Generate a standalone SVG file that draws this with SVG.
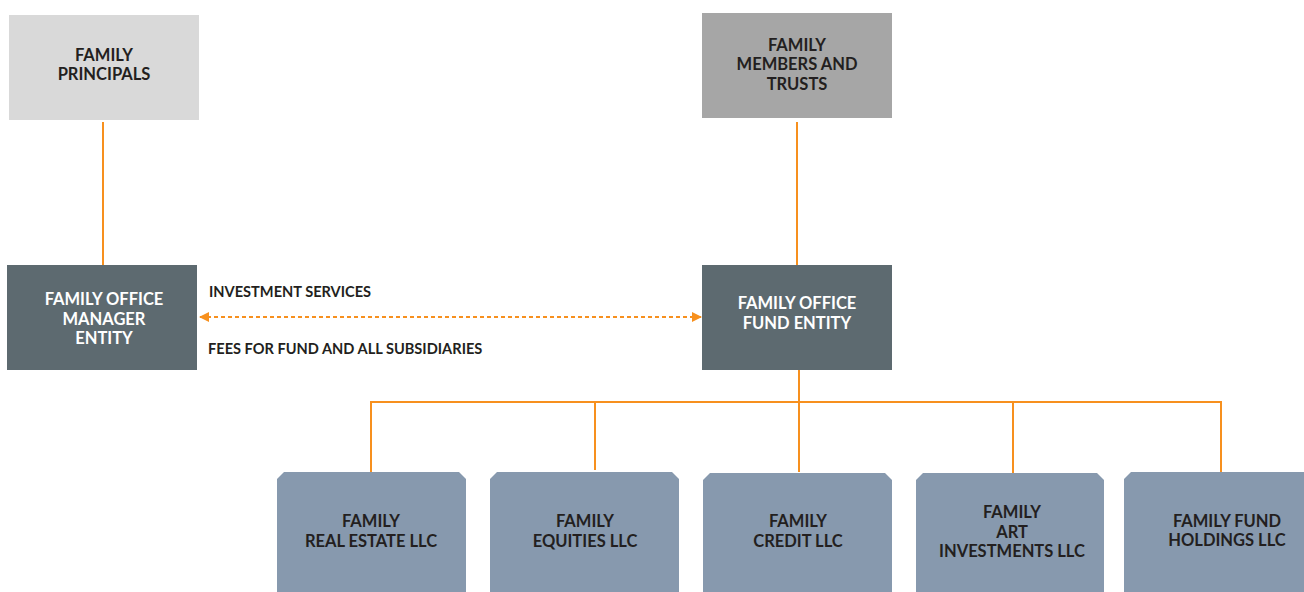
<svg xmlns="http://www.w3.org/2000/svg" width="1304" height="592" viewBox="0 0 1304 592">
<style>
.t{font-family:Lato,"Liberation Sans",sans-serif;font-weight:700;font-size:16.5px;text-anchor:middle;fill:#231f20}
.w{fill:#ffffff}
.lbl{font-family:Lato,"Liberation Sans",sans-serif;font-weight:700;font-size:14.6px;fill:#231f20}
.ln{stroke:#f7901e;stroke-width:2;fill:none}
.dash{stroke:#f7901e;stroke-width:2;fill:none;stroke-dasharray:4 3}
.dark{fill:#5d6a70}
.sub{fill:#8799ae}
</style>
<defs>
<marker id="ah" viewBox="0 0 10 10" refX="9" refY="5" markerWidth="5" markerHeight="5" orient="auto-start-reverse">
<path d="M0,0 L10,5 L0,10 Z" fill="#f7901e"/>
</marker>
</defs>
<rect width="1304" height="592" fill="#ffffff"/>
<g id="connectors">
<line class="ln" x1="103" y1="122" x2="103" y2="265"/>
<line class="ln" x1="797" y1="122" x2="797" y2="265"/>
<line class="dash" x1="200" y1="317" x2="701" y2="317" marker-start="url(#ah)" marker-end="url(#ah)"/>
<line class="ln" x1="799" y1="370" x2="799" y2="472"/>
<polyline class="ln" points="371,472 371,402 1221,402 1221,472"/>
<line class="ln" x1="595" y1="402" x2="595" y2="470"/>
<line class="ln" x1="1013" y1="402" x2="1013" y2="473"/>
</g>
<g id="family-principals">
<rect x="9" y="15" width="190" height="105" fill="#d9d9d9"/>
<text class="t" x="104" y="61">FAMILY</text>
<text class="t" x="104" y="80">PRINCIPALS</text>
</g>
<g id="family-members">
<rect x="702" y="13" width="190" height="105" fill="#a6a6a6"/>
<text class="t" x="797" y="51">FAMILY</text>
<text class="t" x="797" y="70">MEMBERS AND</text>
<text class="t" x="797" y="90">TRUSTS</text>
</g>
<g id="manager-entity">
<rect class="dark" x="7" y="265" width="190" height="105"/>
<text class="t w" x="104" y="305">FAMILY OFFICE</text>
<text class="t w" x="104" y="325">MANAGER</text>
<text class="t w" x="104" y="344">ENTITY</text>
</g>
<g id="fund-entity">
<rect class="dark" x="702" y="265" width="190" height="105"/>
<text class="t w" x="797" y="309">FAMILY OFFICE</text>
<text class="t w" x="797" y="329">FUND ENTITY</text>
</g>
<g id="labels">
<text class="lbl" x="209" y="297">INVESTMENT SERVICES</text>
<text class="lbl" x="208" y="354">FEES FOR FUND AND ALL SUBSIDIARIES</text>
</g>
<g id="real-estate">
<path class="sub" d="M284,472 H459 L466,479 V592 H277 V479 Z"/>
<text class="t" x="371" y="527">FAMILY</text>
<text class="t" x="371" y="547">REAL ESTATE LLC</text>
</g>
<g id="equities">
<path class="sub" d="M497,472 H672 L679,479 V592 H490 V479 Z"/>
<text class="t" x="585" y="527">FAMILY</text>
<text class="t" x="585" y="547">EQUITIES LLC</text>
</g>
<g id="credit">
<path class="sub" d="M710,473 H885 L892,480 V592 H703 V480 Z"/>
<text class="t" x="798" y="527">FAMILY</text>
<text class="t" x="798" y="547">CREDIT LLC</text>
</g>
<g id="art">
<path class="sub" d="M923,473 H1097 L1104,480 V592 H916 V480 Z"/>
<text class="t" x="1012" y="518">FAMILY</text>
<text class="t" x="1012" y="538">ART</text>
<text class="t" x="1012" y="557">INVESTMENTS LLC</text>
</g>
<g id="fund-holdings">
<path class="sub" d="M1131,472 H1304 V592 H1124 V479 Z"/>
<text class="t" x="1227" y="527">FAMILY FUND</text>
<text class="t" x="1227" y="546">HOLDINGS LLC</text>
</g>
</svg>
